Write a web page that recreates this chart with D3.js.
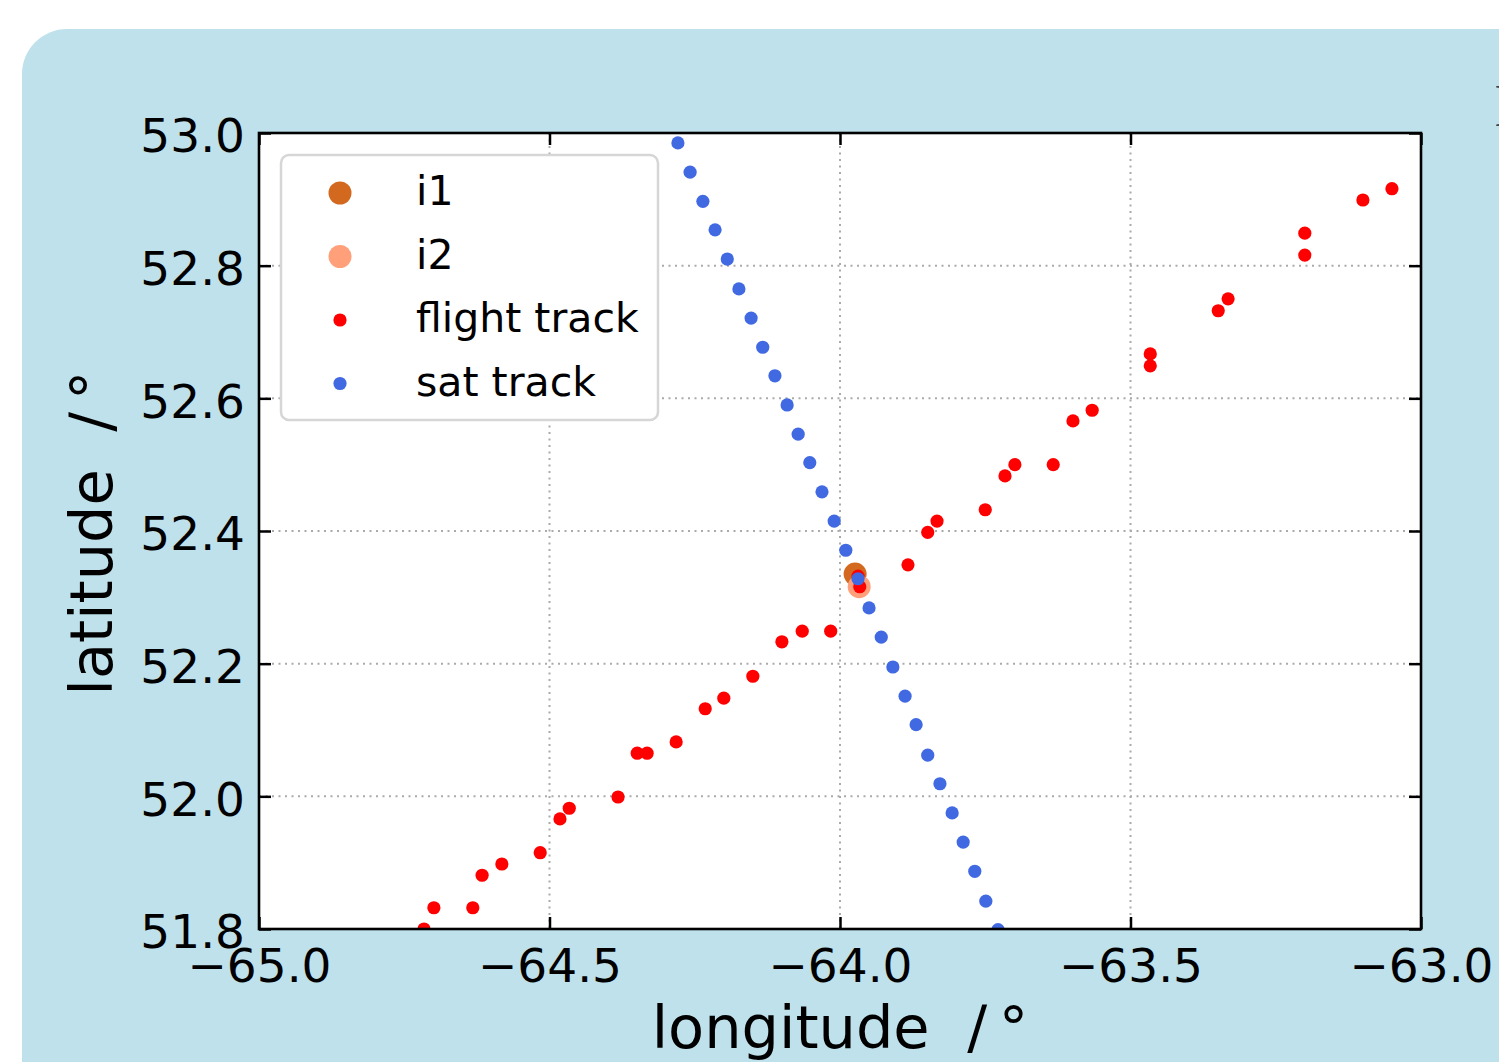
<!DOCTYPE html>
<html>
<head>
<meta charset="utf-8">
<script src="https://cdn.jsdelivr.net/npm/d3@7"></script>
<style>
  body { margin: 0; background: #fff; overflow: hidden; }
  svg { display: block; font-family: "DejaVu Sans", sans-serif; }
</style>
</head>
<body>
<div id="chart"></div>
<script>
// intersection points
var i1Lon = [-63.974], i1Lat = [52.335];
var i2Lon = [-63.967], i2Lat = [52.316];

// flight track (red)
var flightLon = [-64.716, -64.699, -64.632, -64.616, -64.582, -64.516, -64.482, -64.466, -64.382,
  -64.349, -64.332, -64.282, -64.232, -64.200, -64.150, -64.100, -64.065, -64.016, -63.969, -63.966,
  -63.883, -63.849, -63.833, -63.750, -63.716, -63.699, -63.633, -63.599, -63.566, -63.466, -63.466,
  -63.349, -63.332, -63.200, -63.200, -63.100, -63.050];
var flightLat = [51.800, 51.832, 51.832, 51.881, 51.898, 51.915, 51.966, 51.982, 51.999,
  52.065, 52.065, 52.082, 52.132, 52.148, 52.181, 52.233, 52.249, 52.249, 52.332, 52.316,
  52.349, 52.398, 52.415, 52.432, 52.483, 52.500, 52.500, 52.566, 52.582, 52.649, 52.667,
  52.732, 52.750, 52.816, 52.849, 52.899, 52.916];

// satellite track (blue)
var satLon = [-64.279, -64.258, -64.236, -64.215, -64.194, -64.174, -64.153, -64.133, -64.112, -64.091,
  -64.072, -64.052, -64.031, -64.010, -63.990, -63.969, -63.950, -63.929, -63.909, -63.888,
  -63.869, -63.849, -63.828, -63.807, -63.788, -63.768, -63.749, -63.728];
var satLat = [52.985, 52.941, 52.897, 52.854, 52.810, 52.765, 52.721, 52.677, 52.634, 52.590,
  52.546, 52.503, 52.459, 52.415, 52.371, 52.328, 52.284, 52.240, 52.195, 52.151,
  52.108, 52.062, 52.019, 51.975, 51.931, 51.887, 51.842, 51.799];

var xTicks = [-65.0, -64.5, -64.0, -63.5, -63.0];
var yTicks = [51.8, 52.0, 52.2, 52.4, 52.6, 52.8, 53.0];
var legendNames = ["i1", "i2", "flight track", "sat track"];

var W = 1499, H = 1062;
var margin = { top: 133, left: 259 },
    width = 1162, height = 796;

var svg = d3.select("#chart").append("svg")
  .attr("width", W).attr("height", H);

// blue panel
svg.append("rect")
  .attr("x", 22).attr("y", 29)
  .attr("width", W + 100).attr("height", H + 100)
  .attr("rx", 45)
  .style("fill", "#bee1eb");

// cut-off letter at right edge
svg.append("text")
  .attr("x", 1494).attr("y", 126)
  .style("font-family", "'Liberation Serif', serif")
  .style("font-size", "62px")
  .style("fill", "#444")
  .text("I");

var g = svg.append("g")
  .attr("transform", "translate(" + margin.left + "," + margin.top + ")");

var x = d3.scaleLinear().domain([-65, -63]).range([0, width]);
var y = d3.scaleLinear().domain([51.8, 53.0]).range([height, 0]);

g.append("rect")
  .attr("width", width).attr("height", height)
  .style("fill", "white");

// dotted grid
g.append("g").selectAll("line")
  .data(xTicks.slice(1, -1))
  .enter().append("line")
  .attr("x1", function (d) { return x(d); }).attr("x2", function (d) { return x(d); })
  .attr("y1", 0).attr("y2", height)
  .style("stroke", "#aaa").style("stroke-width", 2).style("stroke-dasharray", "2,4.5");
g.append("g").selectAll("line")
  .data(yTicks.slice(1, -1))
  .enter().append("line")
  .attr("y1", function (d) { return y(d); }).attr("y2", function (d) { return y(d); })
  .attr("x1", 0).attr("x2", width)
  .style("stroke", "#aaa").style("stroke-width", 2).style("stroke-dasharray", "2,4.5");

// clip for points
svg.append("clipPath").attr("id", "clip")
  .append("rect").attr("width", width).attr("height", height);

var pts = g.append("g").attr("clip-path", "url(#clip)");

function dots(lon, lat, r, color) {
  pts.append("g").selectAll("circle")
    .data(d3.range(lon.length))
    .enter().append("circle")
    .attr("cx", function (i) { return x(lon[i]); })
    .attr("cy", function (i) { return y(lat[i]); })
    .attr("r", r)
    .style("fill", color);
}
dots(i1Lon, i1Lat, 11.5, "#d2691e");
dots(i2Lon, i2Lat, 11.5, "#ffa07a");
dots(flightLon, flightLat, 6.6, "#ff0000");
dots(satLon, satLat, 6.6, "#4169e1");

// axes with inward ticks
var fmt = d3.format(".1f");
function styleAxis(sel) {
  sel.select(".domain").remove();
  sel.selectAll(".tick line").style("stroke", "black").style("stroke-width", 2.5);
  sel.selectAll(".tick text").style("font-size", "47px").style("fill", "black")
    .style("font-family", "'DejaVu Sans', sans-serif");
}
g.append("g").attr("transform", "translate(0," + height + ")")
  .call(d3.axisBottom(x).tickValues(xTicks).tickFormat(fmt).tickSize(-12).tickPadding(20))
  .call(styleAxis);
g.append("g")
  .call(d3.axisTop(x).tickValues(xTicks).tickFormat("").tickSize(-12))
  .call(styleAxis);
g.append("g")
  .call(d3.axisLeft(y).tickValues(yTicks).tickFormat(fmt).tickSize(-12).tickPadding(14))
  .call(styleAxis)
  .selectAll(".tick text").attr("dy", "0.4em");
g.append("g").attr("transform", "translate(" + width + ",0)")
  .call(d3.axisRight(y).tickValues(yTicks).tickFormat("").tickSize(-12))
  .call(styleAxis);

// frame
g.append("rect")
  .attr("width", width).attr("height", height)
  .style("fill", "none").style("stroke", "black").style("stroke-width", 2.6);

// axis labels
svg.append("text")
  .attr("x", 840).attr("y", 1048)
  .attr("text-anchor", "middle")
  .style("font-size", "59px")
  .text("longitude\u00a0\u00a0/\u2009°");
svg.append("text")
  .attr("transform", "translate(112,533) rotate(-90)")
  .attr("text-anchor", "middle")
  .style("font-size", "59px")
  .text("latitude\u00a0\u00a0/\u2009°");

// legend
var legend = svg.append("g");
legend.append("rect")
  .attr("x", 281).attr("y", 155)
  .attr("width", 377).attr("height", 265)
  .attr("rx", 8)
  .style("fill", "white").style("stroke", "#d6d6d6").style("stroke-width", 2.5);
var legColors = ["#d2691e", "#ffa07a", "#ff0000", "#4169e1"];
var legR = [11.5, 11.5, 6.6, 6.6];
legendNames.forEach(function (name, i) {
  var cy = 193 + i * 63.5;
  legend.append("circle").attr("cx", 340).attr("cy", cy).attr("r", legR[i]).style("fill", legColors[i]);
  legend.append("text").attr("x", 416).attr("y", cy + 12)
    .style("font-size", "41px").text(name);
});
</script>
</body>
</html>
